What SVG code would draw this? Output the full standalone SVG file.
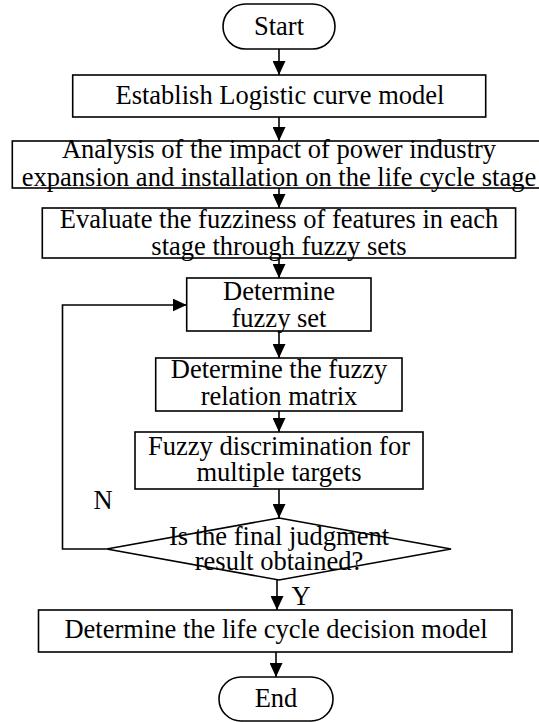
<svg xmlns="http://www.w3.org/2000/svg" width="539" height="722" viewBox="0 0 539 722">
<defs>
<marker id="ah" markerUnits="userSpaceOnUse" markerWidth="14" markerHeight="13" refX="14" refY="6.5" orient="auto">
<path d="M0,0 L14,6.5 L0,13 z" fill="#000"/>
</marker>
<style>
.b{fill:#fff;stroke:#000;stroke-width:1.6}
.t{font-family:"Liberation Serif","Times New Roman",serif;font-size:26.5px;fill:#000;text-anchor:middle}
.c{fill:none;stroke:#000;stroke-width:1.6;marker-end:url(#ah)}
.l{fill:none;stroke:#000;stroke-width:1.6}
</style>
</defs>
<rect width="539" height="722" fill="#fff"/>
<g id="connectors">
<path class="c" d="M279,49 L279,75"/>
<path class="c" d="M279,117 L279,141"/>
<path class="c" d="M279,188 L279,208"/>
<path class="c" d="M279,258 L279,278"/>
<path class="c" d="M279,331 L279,358"/>
<path class="c" d="M279,411 L279,432"/>
<path class="c" d="M279,489 L279,518"/>
<path class="c" d="M106.7,549 L62.5,549 L62.5,305 L186.7,305"/>
<path class="c" d="M277,580 L277,610"/>
<path class="c" d="M276,652 L276,677"/>
<text class="t" x="103" y="509">N</text>
<text class="t" x="301" y="605">Y</text>
</g>
<g id="start">
<rect class="b" x="223" y="4" width="112" height="45" rx="22.5"/>
<text class="t" x="279" y="35">Start</text>
</g>
<g id="logistic">
<rect class="b" x="72.7" y="75" width="413" height="42"/>
<text class="t" x="280" y="104">Establish Logistic curve model</text>
</g>
<g id="analysis">
<rect class="b" x="12.3" y="141" width="534" height="47"/>
<text class="t" x="279" y="158">Analysis of the impact of power industry</text>
<text class="t" x="279" y="186">expansion and installation on the life cycle stage</text>
</g>
<g id="evaluate">
<rect class="b" x="42.3" y="208" width="473.3" height="50"/>
<text class="t" x="279" y="228">Evaluate the fuzziness of features in each</text>
<text class="t" x="279" y="255">stage through fuzzy sets</text>
</g>
<g id="fuzzyset">
<rect class="b" x="186.7" y="278" width="184.3" height="53"/>
<text class="t" x="279" y="300">Determine</text>
<text class="t" x="279" y="327">fuzzy set</text>
</g>
<g id="relation">
<rect class="b" x="155.7" y="358" width="246.3" height="53"/>
<text class="t" x="279" y="378">Determine the fuzzy</text>
<text class="t" x="279" y="405">relation matrix</text>
</g>
<g id="discrimination">
<rect class="b" x="135" y="432" width="288" height="57"/>
<text class="t" x="279" y="455">Fuzzy discrimination for</text>
<text class="t" x="279" y="481">multiple targets</text>
</g>
<g id="decision">
<path class="b" d="M279,518 L451,549 L279,580 L106.7,549 Z"/>
<text class="t" x="279" y="545">Is the final judgment</text>
<text class="t" x="279" y="570">result obtained?</text>
</g>
<g id="lifecycle">
<rect class="b" x="38.5" y="610" width="473.5" height="42"/>
<text class="t" x="276" y="638">Determine the life cycle decision model</text>
</g>
<g id="end">
<rect class="b" x="219" y="677" width="114" height="44" rx="22"/>
<text class="t" x="276" y="707">End</text>
</g>
</svg>
